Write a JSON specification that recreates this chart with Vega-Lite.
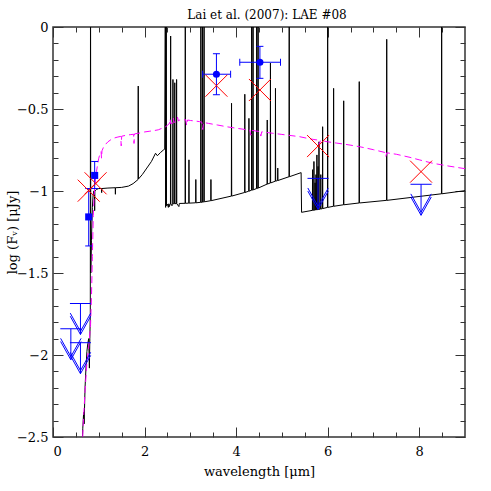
{
  "$schema": "https://vega.github.io/schema/vega-lite/v6.json",
  "width": 412,
  "height": 410,
  "autosize": {"type": "none"},
  "padding": {"left": 53, "top": 27, "right": 26, "bottom": 54},
  "background": "white",
  "title": {"text": "Lai et al. (2007): LAE #08", "font": "DejaVu Serif", "fontSize": 12, "fontWeight": "normal", "color": "#000", "anchor": "middle", "frame": "group", "offset": -1, "dx": 8},
  "config": {
    "view": {"stroke": "#333", "strokeWidth": 1.5},
    "axis": {"labelFont": "DejaVu Serif", "labelFontSize": 13, "labelColor": "#000", "titleFont": "DejaVu Serif", "titleFontSize": 13, "titleFontWeight": "normal", "titleColor": "#000", "grid": false, "domain": false, "tickColor": "#333", "tickWidth": 1}
  },
  "datasets": {
    "sed": [
      {"w":0.62,"f":-2.75},{"w":0.65,"f":-2.45},{"w":0.67,"f":-2.35},{"w":0.68,"f":-2.42},{"w":0.70,"f":-2.2},{"w":0.72,"f":-2.08},{"w":0.74,"f":-1.98},{"w":0.76,"f":-1.93},{"w":0.78,"f":-1.9},{"w":0.795,"f":-2.08},{"w":0.805,"f":-1.9},{"w":0.815,"f":-1.75},{"w":0.82,"f":0.4},{"w":0.825,"f":-1.5},{"w":0.84,"f":-1.3},{"w":0.86,"f":-1.1},{"w":0.875,"f":-1.03},{"w":0.89,"f":-1.0},{"w":0.905,"f":-1.0},{"w":0.91,"f":-1.12},{"w":0.915,"f":-1.0},{"w":0.95,"f":-0.99},{"w":1.0,"f":-0.985},{"w":1.06,"f":-0.985},{"w":1.063,"f":-1.01},{"w":1.066,"f":-0.985},{"w":1.2,"f":-0.982},{"w":1.36,"f":-0.98},{"w":1.363,"f":-1.02},{"w":1.366,"f":-0.98},{"w":1.5,"f":-0.978},{"w":1.65,"f":-0.97},{"w":1.75,"f":-0.955},{"w":1.858,"f":-0.93},{"w":1.862,"f":-0.36},{"w":1.866,"f":-0.927},{"w":1.95,"f":-0.9},{"w":2.05,"f":-0.86},{"w":2.15,"f":-0.82},{"w":2.24,"f":-0.77},{"w":2.28,"f":-0.785},{"w":2.35,"f":-0.765},{"w":2.42,"f":-0.748},{"w":2.44,"f":-0.745},
      {"w":2.455,"f":0.4},{"w":2.46,"f":-1.1},{"w":2.475,"f":0.4},{"w":2.48,"f":-1.09},{"w":2.5,"f":-1.08},{"w":2.52,"f":-1.1},{"w":2.53,"f":-1.078},{"w":2.545,"f":-1.095},{"w":2.555,"f":-1.08},
      {"w":2.566,"f":-1.079},{"w":2.57,"f":-0.055},{"w":2.574,"f":-1.079},{"w":2.6,"f":-1.09},{"w":2.605,"f":-1.078},
      {"w":2.616,"f":-1.078},{"w":2.62,"f":-0.32},{"w":2.624,"f":-1.078},
      {"w":2.656,"f":-1.077},{"w":2.66,"f":-0.34},{"w":2.664,"f":-1.077},
      {"w":2.696,"f":-1.077},{"w":2.70,"f":-0.32},{"w":2.704,"f":-1.077},
      {"w":2.75,"f":-1.095},{"w":2.76,"f":-1.076},
      {"w":2.886,"f":-1.075},{"w":2.89,"f":0.4},{"w":2.894,"f":-1.075},
      {"w":2.966,"f":-1.074},{"w":2.97,"f":-0.81},{"w":2.974,"f":-1.074},
      {"w":3.116,"f":-1.072},{"w":3.12,"f":-0.93},{"w":3.124,"f":-1.072},
      {"w":3.226,"f":-1.069},{"w":3.23,"f":0.4},{"w":3.234,"f":-1.069},
      {"w":3.261,"f":-1.068},{"w":3.265,"f":0.4},{"w":3.269,"f":-1.068},
      {"w":3.296,"f":-1.066},{"w":3.30,"f":0.4},{"w":3.304,"f":-1.066},
      {"w":3.446,"f":-1.059},{"w":3.45,"f":-0.93},{"w":3.454,"f":-1.059},
      {"w":3.896,"f":-1.031},{"w":3.90,"f":-0.465},{"w":3.904,"f":-1.031},
      {"w":4.186,"f":-1.009},{"w":4.19,"f":-0.41},{"w":4.194,"f":-1.009},
      {"w":4.276,"f":-1.001},{"w":4.28,"f":-0.557},{"w":4.284,"f":-1.001},
      {"w":4.336,"f":-0.995},{"w":4.34,"f":0.4},{"w":4.344,"f":-0.995},
      {"w":4.366,"f":-0.993},{"w":4.37,"f":0.4},{"w":4.374,"f":-0.993},
      {"w":4.446,"f":-0.985},{"w":4.45,"f":0.4},{"w":4.454,"f":-0.985},
      {"w":4.476,"f":-0.982},{"w":4.48,"f":0.4},{"w":4.484,"f":-0.982},
      {"w":4.676,"f":-0.958},{"w":4.68,"f":-0.567},{"w":4.684,"f":-0.958},
      {"w":4.746,"f":-0.951},{"w":4.75,"f":-0.22},{"w":4.754,"f":-0.951},
      {"w":4.856,"f":-0.94},{"w":4.86,"f":-0.374},{"w":4.864,"f":-0.94},
      {"w":4.906,"f":-0.936},{"w":4.91,"f":-0.86},{"w":4.914,"f":-0.936},
      {"w":5.156,"f":-0.913},{"w":5.16,"f":0.4},{"w":5.164,"f":-0.913},
      {"w":5.42,"f":-0.888},{"w":5.43,"f":-1.13},
      {"w":5.666,"f":-1.118},{"w":5.67,"f":-0.87},{"w":5.674,"f":-1.118},
      {"w":5.696,"f":-1.117},{"w":5.70,"f":-0.82},{"w":5.704,"f":-1.117},
      {"w":5.721,"f":-1.116},{"w":5.725,"f":-0.95},{"w":5.729,"f":-1.116},
      {"w":5.741,"f":-1.115},{"w":5.745,"f":-0.9},{"w":5.749,"f":-1.115},
      {"w":5.761,"f":-1.114},{"w":5.765,"f":-0.78},{"w":5.769,"f":-1.114},
      {"w":5.786,"f":-1.113},{"w":5.79,"f":-0.85},{"w":5.794,"f":-1.113},
      {"w":5.806,"f":-1.112},{"w":5.81,"f":-0.70},{"w":5.814,"f":-1.112},
      {"w":5.846,"f":-1.11},{"w":5.85,"f":-0.9},{"w":5.854,"f":-1.11},
      {"w":5.886,"f":-1.107},{"w":5.89,"f":-0.608},{"w":5.894,"f":-1.107},
      {"w":5.996,"f":-1.1},{"w":6.0,"f":0.4},{"w":6.004,"f":-1.1},
      {"w":6.126,"f":-1.093},{"w":6.13,"f":-0.374},{"w":6.134,"f":-1.093},
      {"w":6.346,"f":-1.084},{"w":6.35,"f":-0.45},{"w":6.354,"f":-1.084},
      {"w":6.686,"f":-1.073},{"w":6.69,"f":-0.333},{"w":6.694,"f":-1.073},
      {"w":7.286,"f":-1.057},{"w":7.29,"f":-0.075},{"w":7.294,"f":-1.057},
      {"w":8.486,"f":-1.017},{"w":8.49,"f":0.4},{"w":8.494,"f":-1.017},
      {"w":9.05,"f":-0.996}
    ],
    "model": [
      {"w":0.62,"f":-2.7},{"w":0.66,"f":-2.42},{"w":0.70,"f":-2.22},{"w":0.74,"f":-2.05},{"w":0.78,"f":-1.95},{"w":0.82,"f":-1.82},{"w":0.84,"f":-1.65},{"w":0.86,"f":-1.4},{"w":0.88,"f":-1.15},{"w":0.90,"f":-1.02},{"w":0.92,"f":-0.95},{"w":0.95,"f":-0.88},{"w":0.98,"f":-0.83},{"w":1.0,"f":-0.8},{"w":1.03,"f":-0.77},{"w":1.05,"f":-0.76},{"w":1.06,"f":-0.8},{"w":1.07,"f":-0.755},{"w":1.1,"f":-0.735},{"w":1.15,"f":-0.715},{"w":1.2,"f":-0.7},{"w":1.25,"f":-0.69},{"w":1.3,"f":-0.68},{"w":1.4,"f":-0.672},{"w":1.48,"f":-0.667},{"w":1.49,"f":-0.725},{"w":1.5,"f":-0.666},{"w":1.6,"f":-0.66},{"w":1.7,"f":-0.656},{"w":1.76,"f":-0.654},{"w":1.77,"f":-0.71},{"w":1.78,"f":-0.652},{"w":1.9,"f":-0.646},{"w":2.0,"f":-0.64},{"w":2.1,"f":-0.636},{"w":2.2,"f":-0.632},{"w":2.3,"f":-0.627},{"w":2.4,"f":-0.615},{"w":2.45,"f":-0.61},{"w":2.5,"f":-0.6},{"w":2.55,"f":-0.585},{"w":2.56,"f":-0.56},{"w":2.57,"f":-0.59},{"w":2.62,"f":-0.585},{"w":2.63,"f":-0.555},{"w":2.64,"f":-0.582},{"w":2.7,"f":-0.575},{"w":2.72,"f":-0.55},{"w":2.74,"f":-0.573},{"w":2.77,"f":-0.567},{"w":2.85,"f":-0.565},{"w":2.9,"f":-0.566},{"w":2.92,"f":-0.6},{"w":2.94,"f":-0.567},{"w":3.0,"f":-0.57},{"w":3.1,"f":-0.573},{"w":3.2,"f":-0.577},{"w":3.25,"f":-0.58},{"w":3.27,"f":-0.625},{"w":3.29,"f":-0.582},{"w":3.4,"f":-0.588},{"w":3.6,"f":-0.598},{"w":3.79,"f":-0.608},{"w":4.0,"f":-0.617},{"w":4.2,"f":-0.625},{"w":4.3,"f":-0.629},{"w":4.32,"f":-0.66},{"w":4.34,"f":-0.63},{"w":4.45,"f":-0.635},{"w":4.52,"f":-0.638},{"w":4.54,"f":-0.665},{"w":4.56,"f":-0.639},{"w":4.8,"f":-0.648},{"w":5.0,"f":-0.655},{"w":5.2,"f":-0.662},{"w":5.39,"f":-0.669},{"w":5.54,"f":-0.678},{"w":5.7,"f":-0.686},{"w":5.8,"f":-0.69},{"w":5.82,"f":-0.72},{"w":5.84,"f":-0.692},{"w":6.0,"f":-0.7},{"w":6.2,"f":-0.708},{"w":6.4,"f":-0.716},{"w":6.49,"f":-0.72},{"w":6.7,"f":-0.73},{"w":7.0,"f":-0.748},{"w":7.25,"f":-0.765},{"w":7.27,"f":-0.79},{"w":7.29,"f":-0.767},{"w":7.5,"f":-0.776},{"w":7.8,"f":-0.795},{"w":8.0,"f":-0.81},{"w":8.3,"f":-0.831},{"w":8.6,"f":-0.846},{"w":9.0,"f":-0.864}
    ],
    "phot": [
      {"w":3.57,"f":-0.288,"wlo":3.27,"whi":3.88,"flo":-0.413,"fhi":-0.163,"kind":"circle"},
      {"w":4.52,"f":-0.215,"wlo":4.08,"whi":4.97,"flo":-0.313,"fhi":-0.118,"kind":"circle"},
      {"w":0.78,"f":-1.158,"wlo":null,"whi":null,"flo":-1.335,"fhi":-0.985,"kind":"square"},
      {"w":0.91,"f":-0.905,"wlo":null,"whi":null,"flo":-0.985,"fhi":-0.82,"kind":"square"}
    ],
    "fit": [
      {"w":0.78,"f":-0.998},{"w":0.93,"f":-0.953},{"w":3.57,"f":-0.358},{"w":4.52,"f":-0.384},{"w":5.79,"f":-0.726},{"w":8.04,"f":-0.882}
    ],
    "ulim": [
      {"w":0.6,"f":-1.686},{"w":0.39,"f":-1.84},{"w":0.6,"f":-1.925},{"w":5.79,"f":-0.923},{"w":8.04,"f":-0.959}
    ]
  },
  "resolve": {"axis": {"x": "independent", "y": "independent"}},
  "layer": [
    {
      "data": {"name": "sed"},
      "mark": {"type": "line", "color": "#000", "strokeWidth": 1, "clip": true},
      "encoding": {
        "x": {"field": "w", "type": "quantitative", "scale": {"domain": [0, 9], "nice": false, "zero": false},
              "axis": {"orient": "bottom", "values": [0, 2, 4, 6, 8], "ticks": false, "labelPadding": 8, "title": "wavelength [\u03bcm]", "titlePadding": 7}},
        "y": {"field": "f", "type": "quantitative", "scale": {"domain": [-2.5, 0], "nice": false, "zero": false},
              "axis": {"orient": "left", "values": [0, -0.5, -1, -1.5, -2, -2.5], "format": "~g", "ticks": false, "labelPadding": 5, "title": "log (F\u1d65) [\u03bcJy]", "titleX": -41, "titleBaseline": "middle"}},
        "order": {"value": null}
      }
    },
    {
      "data": {"name": "model"},
      "mark": {"type": "line", "color": "#ff00ff", "strokeWidth": 1, "strokeDash": [7, 4], "clip": true},
      "encoding": {
        "x": {"field": "w", "type": "quantitative", "axis": {"orient": "bottom", "values": [0, 2, 4, 6, 8], "labels": false, "tickSize": -10, "title": null}},
        "y": {"field": "f", "type": "quantitative", "axis": {"orient": "left", "values": [0, -0.5, -1, -1.5, -2, -2.5], "labels": false, "tickSize": -10, "title": null}}
      }
    },
    {
      "data": {"name": "phot"},
      "mark": {"type": "rule", "color": "#0000ff", "strokeWidth": 1},
      "encoding": {
        "x": {"field": "w", "type": "quantitative", "axis": {"orient": "bottom", "values": [0.5,1,1.5,2.5,3,3.5,4.5,5,5.5,6.5,7,7.5,8.5], "labels": false, "tickSize": -5, "title": null}},
        "y": {"field": "flo", "type": "quantitative", "axis": {"orient": "left", "values": [-0.1,-0.2,-0.3,-0.4,-0.6,-0.7,-0.8,-0.9,-1.1,-1.2,-1.3,-1.4,-1.6,-1.7,-1.8,-1.9,-2.1,-2.2,-2.3,-2.4], "labels": false, "tickSize": -5, "title": null}},
        "y2": {"field": "fhi"}
      }
    },
    {
      "data": {"name": "phot"},
      "transform": [{"filter": "isValid(datum.wlo)"}],
      "mark": {"type": "rule", "color": "#0000ff", "strokeWidth": 1},
      "encoding": {
        "x": {"field": "wlo", "type": "quantitative", "axis": {"orient": "top", "values": [0, 2, 4, 6, 8], "labels": false, "tickSize": -10, "title": null}},
        "x2": {"field": "whi"},
        "y": {"field": "f", "type": "quantitative", "axis": {"orient": "right", "values": [0, -0.5, -1, -1.5, -2, -2.5], "labels": false, "tickSize": -10, "title": null}}
      }
    },
    {
      "data": {"name": "phot"},
      "mark": {"type": "point", "shape": "M-1,0H1", "size": 49, "filled": false, "stroke": "#0000ff", "strokeWidth": 1, "opacity": 1},
      "encoding": {
        "x": {"field": "w", "type": "quantitative", "axis": {"orient": "top", "values": [0.5,1,1.5,2.5,3,3.5,4.5,5,5.5,6.5,7,7.5,8.5], "labels": false, "tickSize": -5, "title": null}},
        "y": {"field": "flo", "type": "quantitative", "axis": {"orient": "right", "values": [-0.1,-0.2,-0.3,-0.4,-0.6,-0.7,-0.8,-0.9,-1.1,-1.2,-1.3,-1.4,-1.6,-1.7,-1.8,-1.9,-2.1,-2.2,-2.3,-2.4], "labels": false, "tickSize": -5, "title": null}}
      }
    },
    {
      "data": {"name": "phot"},
      "mark": {"type": "point", "shape": "M-1,0H1", "size": 49, "filled": false, "stroke": "#0000ff", "strokeWidth": 1, "opacity": 1},
      "encoding": {
        "x": {"field": "w", "type": "quantitative", "axis": null},
        "y": {"field": "fhi", "type": "quantitative", "axis": null}
      }
    },
    {
      "data": {"name": "phot"},
      "transform": [{"filter": "isValid(datum.wlo)"}],
      "mark": {"type": "point", "shape": "M0,-1V1", "size": 49, "filled": false, "stroke": "#0000ff", "strokeWidth": 1, "opacity": 1},
      "encoding": {
        "x": {"field": "wlo", "type": "quantitative", "axis": null},
        "y": {"field": "f", "type": "quantitative", "axis": null}
      }
    },
    {
      "data": {"name": "phot"},
      "transform": [{"filter": "isValid(datum.whi)"}],
      "mark": {"type": "point", "shape": "M0,-1V1", "size": 49, "filled": false, "stroke": "#0000ff", "strokeWidth": 1, "opacity": 1},
      "encoding": {
        "x": {"field": "whi", "type": "quantitative", "axis": null},
        "y": {"field": "f", "type": "quantitative", "axis": null}
      }
    },
    {
      "data": {"name": "phot"},
      "mark": {"type": "point", "filled": true, "color": "#0000ff", "opacity": 1, "size": 50},
      "encoding": {
        "x": {"field": "w", "type": "quantitative", "axis": null},
        "y": {"field": "f", "type": "quantitative", "axis": null},
        "shape": {"field": "kind", "type": "nominal", "scale": {"domain": ["circle", "square"], "range": ["circle", "square"]}, "legend": null}
      }
    },
    {
      "data": {"name": "fit"},
      "mark": {"type": "point", "shape": "M-1,-1L1,1M-1,1L1,-1", "size": 484, "filled": false, "stroke": "#ff0000", "strokeWidth": 1, "opacity": 1},
      "encoding": {
        "x": {"field": "w", "type": "quantitative", "axis": null},
        "y": {"field": "f", "type": "quantitative", "axis": null}
      }
    },
    {
      "data": {"name": "ulim"},
      "mark": {"type": "point", "shape": "M-0.68,0H0.68M0,0V2M-0.66,0.82L0,2L0.66,0.82M-0.66,0.62L0,1.8L0.66,0.62", "size": 961, "filled": false, "stroke": "#0000ff", "strokeWidth": 1, "opacity": 1},
      "encoding": {
        "x": {"field": "w", "type": "quantitative", "axis": null},
        "y": {"field": "f", "type": "quantitative", "axis": null}
      }
    }
  ]
}
